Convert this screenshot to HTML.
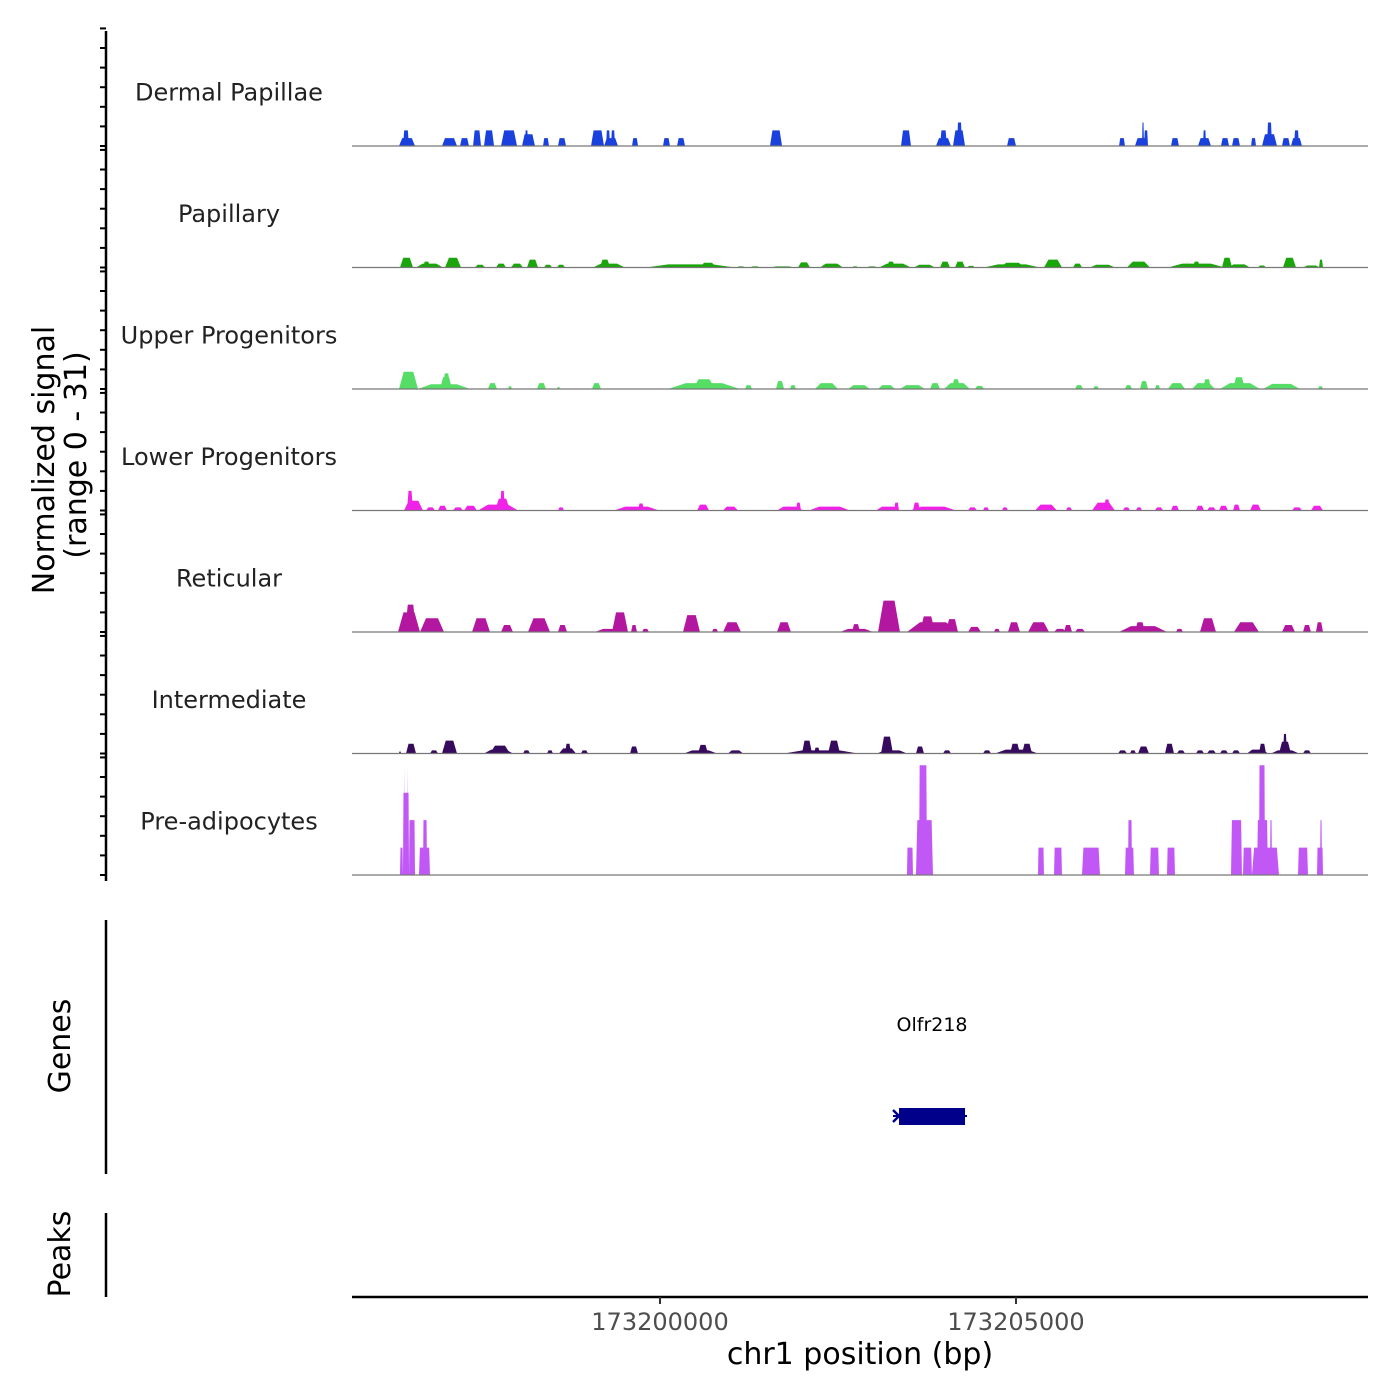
<!DOCTYPE html>
<html><head><meta charset="utf-8"><style>
html,body{margin:0;padding:0;background:#fff;}
svg{display:block;font-family:"DejaVu Sans","Liberation Sans",sans-serif;}
</style></head><body>
<svg id="chart" width="1400" height="1400" viewBox="0 0 1400 1400" xmlns="http://www.w3.org/2000/svg">
<rect width="1400" height="1400" fill="#fff"/>
<g id="tracks"></g>
<g id="yaxis"></g>
<text transform="translate(54,460) rotate(-90)" text-anchor="middle" font-size="30" fill="#000">Normalized signal</text>
<text transform="translate(86,455) rotate(-90)" text-anchor="middle" font-size="30" fill="#000">(range 0 - 31)</text>
<line x1="106" y1="920" x2="106" y2="1174" stroke="#000" stroke-width="2.5"/>
<text transform="translate(70,1046) rotate(-90)" text-anchor="middle" font-size="30" fill="#000">Genes</text>
<g id="genes"></g>
<line x1="106" y1="1213" x2="106" y2="1297" stroke="#000" stroke-width="2.5"/>
<text transform="translate(70,1254) rotate(-90)" text-anchor="middle" font-size="30" fill="#000">Peaks</text>
<g id="xaxis"></g>
<text x="860" y="1364" text-anchor="middle" font-size="30" fill="#000">chr1 position (bp)</text>
</svg>
<script>
// positions in kb past 173,195,000 ; peaks are [start, end, height]
const trackNames = ["Dermal Papillae","Papillary","Upper Progenitors","Lower Progenitors","Reticular","Intermediate","Pre-adipocytes"];
const trackColors = ["#1a40dd","#1aa50a","#55dd66","#f022e8","#b3179f","#360a5c","#c158f6"];
const xTickValues = [173200000, 173205000];
const xTickLabels = ["173200000","173205000"];
const yRangeMax = 31;
const geneName = "Olfr218";
const geneStart = 8.357, geneEnd = 9.284;

const dermalPapillae = [[1.334,1.559,2],[1.390,1.475,4],[1.938,2.149,2],[2.191,2.317,2],[2.374,2.486,4],[2.528,2.669,4],[2.767,2.992,4],[3.062,3.244,3],[3.104,3.146,4],[3.357,3.441,2],[3.567,3.680,2],[4.031,4.214,4],[4.214,4.410,2],[4.242,4.298,4],[4.312,4.368,4],[4.607,4.691,2],[5.042,5.140,2],[5.239,5.351,2],[6.545,6.714,4],[8.385,8.525,4],[8.876,9.087,2],[8.933,9.031,4],[9.115,9.284,4],[9.171,9.242,6],[9.874,10.000,2],[11.447,11.531,2],[11.671,11.854,2],[11.770,11.798,6],[11.798,11.854,4],[12.177,12.289,2],[12.556,12.739,2],[12.627,12.669,4],[12.879,12.992,2],[13.034,13.146,2],[13.301,13.371,2],[13.455,13.666,3],[13.525,13.596,6],[13.736,13.848,2],[13.862,14.017,2],[13.905,13.975,4]];
const papillary = [[1.348,1.531,2.5],[1.573,1.952,1],[1.671,1.770,1.5],[1.980,2.205,2.5],[2.402,2.542,0.7],[2.697,2.837,1],[2.907,3.076,1],[3.132,3.287,2],[3.371,3.483,0.7],[3.553,3.666,0.7],[4.059,4.508,1],[4.157,4.298,2],[4.803,6.053,0.8],[5.562,5.787,1.2],[6.081,6.194,0.3],[6.264,6.405,0.3],[6.545,6.896,0.3],[6.938,7.107,1.3],[7.247,7.570,1],[7.697,7.781,0.3],[7.907,8.048,0.3],[8.076,8.525,1],[8.188,8.300,1.5],[8.567,8.862,0.7],[8.933,9.073,1.5],[9.143,9.284,1.5],[9.312,9.424,0.4],[9.551,10.337,0.8],[9.775,10.126,1.2],[10.393,10.646,2],[10.801,10.927,1],[11.039,11.390,0.7],[11.559,11.882,1.5],[12.135,12.935,1],[12.486,12.584,1.5],[12.893,13.034,2.5],[12.978,13.287,0.8],[13.399,13.511,0.5],[13.750,13.933,2.5],[14.031,14.270,0.5],[14.256,14.312,2]];
const upperProgenitors = [[1.334,1.601,4.4],[1.601,2.331,1.2],[1.910,2.079,3],[1.952,2.051,4],[2.584,2.711,1.5],[2.865,2.921,0.7],[3.272,3.399,1.5],[3.553,3.596,0.5],[4.045,4.171,1.5],[5.112,6.124,1.5],[5.464,5.772,2.5],[6.194,6.292,1],[6.629,6.742,2],[6.826,6.910,1],[7.177,7.500,1.5],[7.640,7.949,1],[8.062,8.300,1],[8.371,8.722,1],[8.792,8.933,1.5],[8.989,9.354,1.5],[9.101,9.214,2.5],[9.424,9.551,0.8],[10.829,10.941,1],[11.082,11.166,0.7],[11.531,11.629,1],[11.742,11.854,2],[11.952,12.023,1],[12.135,12.374,1.5],[12.472,12.795,1.5],[12.627,12.739,2.5],[12.865,13.427,1.5],[13.048,13.216,3],[13.469,13.989,1.3],[14.242,14.312,0.7]];
const lowerProgenitors = [[1.405,1.671,2.5],[1.447,1.531,5],[1.713,1.840,0.8],[1.882,2.008,1.2],[2.093,2.233,0.8],[2.247,2.430,1.2],[2.444,3.006,1.5],[2.683,2.893,3],[2.753,2.823,5],[3.567,3.652,0.8],[4.354,4.986,1],[4.691,4.775,1.8],[5.520,5.688,1.5],[5.885,6.096,1],[6.643,7.008,1],[6.910,6.980,2],[7.093,7.669,1],[8.034,8.371,1],[8.287,8.357,2],[8.511,9.157,1],[8.553,8.652,2],[9.326,9.452,0.8],[9.537,9.621,0.8],[9.803,9.888,0.8],[10.267,10.576,1.5],[10.702,10.787,0.8],[11.067,11.390,2],[11.236,11.320,2.8],[11.503,11.601,0.8],[11.685,11.770,0.8],[11.952,12.065,0.8],[12.177,12.289,1.2],[12.528,12.641,1.2],[12.683,12.809,0.8],[12.851,12.978,1.2],[13.048,13.146,1.5],[13.287,13.441,1.5],[13.876,14.017,0.8],[14.143,14.312,1.2]];
const reticular = [[1.320,1.629,5],[1.419,1.573,7],[1.629,1.966,3.5],[2.360,2.612,3.5],[2.767,2.935,1.8],[3.146,3.455,3.5],[3.567,3.694,1.8],[4.087,4.551,0.8],[4.326,4.551,5],[4.593,4.677,1.8],[4.747,4.845,0.8],[5.323,5.562,4.3],[5.730,5.815,0.8],[5.885,6.138,2.5],[6.643,6.840,2.5],[7.528,7.992,0.8],[7.697,7.809,2],[8.062,8.371,8],[8.469,9.199,2.5],[8.652,8.862,4],[9.017,9.185,3.3],[9.326,9.508,1.3],[9.691,9.775,0.8],[9.888,10.056,2.5],[10.169,10.464,2.5],[10.534,10.702,0.8],[10.674,10.787,1.8],[10.829,10.969,0.8],[11.447,12.121,1.5],[11.671,11.812,2.5],[12.247,12.346,0.8],[12.584,12.809,3.5],[13.062,13.413,2.5],[13.736,13.919,1.8],[14.031,14.143,1.8],[14.213,14.312,2.5]];
const intermediate = [[1.334,1.362,0.5],[1.433,1.573,2.5],[1.770,1.882,0.8],[1.938,2.149,3.3],[2.528,2.935,1],[2.612,2.893,2],[3.076,3.174,0.8],[3.413,3.497,0.8],[3.581,3.820,1.3],[3.666,3.750,2.5],[3.890,3.989,0.8],[4.579,4.691,1.8],[5.337,5.801,0.8],[5.534,5.674,2.2],[5.955,6.166,0.8],[6.742,7.781,0.8],[6.994,7.135,3.3],[7.360,7.528,3.3],[7.163,7.247,1.5],[8.048,8.469,0.8],[8.104,8.272,4.3],[8.595,8.708,1.8],[8.975,9.087,0.8],[9.537,9.649,0.8],[9.705,10.309,1],[9.916,10.056,2.5],[10.084,10.225,2.5],[11.433,11.559,0.8],[11.601,11.685,0.8],[11.714,11.868,1.8],[12.093,12.219,2.5],[12.261,12.374,0.8],[12.528,12.641,0.8],[12.683,12.809,0.8],[12.865,12.978,0.8],[13.034,13.146,0.8],[13.244,13.539,1],[13.413,13.511,2.5],[13.581,13.975,0.8],[13.694,13.862,3],[13.750,13.806,5],[14.031,14.143,0.8]];
const preAdipocytes = [[1.348,1.390,7],[1.390,1.475,21],[1.405,1.419,28],[1.447,1.461,28],[1.475,1.559,14],[1.615,1.770,7],[1.671,1.728,14],[8.469,8.553,7],[8.595,8.834,14],[8.638,8.750,28],[10.309,10.393,7],[10.534,10.646,7],[10.927,11.180,7],[11.531,11.657,7],[11.573,11.629,14],[11.882,12.008,7],[12.121,12.233,7],[13.020,13.174,14],[13.188,13.314,7],[13.314,13.694,7],[13.385,13.539,14],[13.413,13.497,28],[13.567,13.596,14],[13.961,14.101,7],[14.228,14.312,7],[14.270,14.298,14]];

const trackData = [dermalPapillae, papillary, upperProgenitors, lowerProgenitors, reticular, intermediate, preAdipocytes];
const rampFrac = [0.2,0.25,0.25,0.25,0.25,0.25,0.08];

const NS = "http://www.w3.org/2000/svg";
const X0 = 352, X1 = 1368, KB0 = 0.674, KB1 = 14.944;
const xScale = kb => X0 + (kb - KB0) / (KB1 - KB0) * (X1 - X0);
const bpToKb = bp => (bp - 173195000) / 1000;
const PANEL_TOP = 24.5, PANEL_H = 121.5;
const yScale = (i, v) => PANEL_TOP + PANEL_H * (i + 1) - v / yRangeMax * PANEL_H;

const tracks = document.getElementById('tracks');
trackData.forEach((peaks, i) => {
  const g = document.createElementNS(NS, 'g');
  
  
  const lab = document.createElementNS(NS, 'text');
  
  
  lab.setAttribute('x', 229); lab.setAttribute('y', PANEL_TOP + PANEL_H * i + 76);
  lab.setAttribute('text-anchor', 'middle'); lab.setAttribute('font-size', '24'); lab.setAttribute('fill', '#222');
  lab.textContent = trackNames[i];
  g.appendChild(lab);
  const base = yScale(i, 0);
  peaks.forEach(p => {
    const s = xScale(p[0]), e = xScale(p[1]), top = yScale(i, p[2]);
    const r = Math.max(0.5, (e - s) * rampFrac[i]);
    const poly = document.createElementNS(NS, 'polygon');
    
    
    poly.setAttribute('points', `${s},${base} ${s + r},${top} ${e - r},${top} ${e},${base}`);
    poly.setAttribute('fill', trackColors[i]);
    g.appendChild(poly);
  });
  const bl = document.createElementNS(NS, 'line');
  
  
  bl.setAttribute('x1', X0); bl.setAttribute('x2', X1); bl.setAttribute('y1', base); bl.setAttribute('y2', base);
  bl.setAttribute('stroke', '#777'); bl.setAttribute('stroke-width', '1.2');
  g.appendChild(bl);
  tracks.appendChild(g);
});

const yaxis = document.getElementById('yaxis');
const yl = document.createElementNS(NS, 'line');


yl.setAttribute('x1', 106); yl.setAttribute('x2', 106); yl.setAttribute('y1', 31); yl.setAttribute('y2', 881);
yl.setAttribute('stroke', '#000'); yl.setAttribute('stroke-width', '2.5');
yaxis.appendChild(yl);
for (let i = 0; i < 7; i++) {
  for (let v = 0; v <= 30; v += 5) {
    const y = yScale(i, v);
    const t = document.createElementNS(NS, 'line');
    
    
    t.setAttribute('x1', 100); t.setAttribute('x2', 106); t.setAttribute('y1', y); t.setAttribute('y2', y);
    t.setAttribute('stroke', '#000'); t.setAttribute('stroke-width', '2');
    yaxis.appendChild(t);
  }
}

const genes = document.getElementById('genes');
const gs = xScale(geneStart), ge = xScale(geneEnd);
const gl = document.createElementNS(NS, 'text');


gl.setAttribute('x', (gs + ge) / 2); gl.setAttribute('y', 1031);
gl.setAttribute('text-anchor', 'middle'); gl.setAttribute('font-size', '19'); gl.setAttribute('fill', '#000');
gl.textContent = geneName;
genes.appendChild(gl);
const gline = document.createElementNS(NS, 'line');


gline.setAttribute('x1', gs - 6); gline.setAttribute('x2', ge + 2); gline.setAttribute('y1', 1116); gline.setAttribute('y2', 1116);
gline.setAttribute('stroke', '#00008b'); gline.setAttribute('stroke-width', '2');
genes.appendChild(gline);
const gb = document.createElementNS(NS, 'rect');


gb.setAttribute('x', gs); gb.setAttribute('y', 1108); gb.setAttribute('width', ge - gs); gb.setAttribute('height', 17);
gb.setAttribute('fill', '#00008b');
genes.appendChild(gb);
const chev = document.createElementNS(NS, 'polyline');


chev.setAttribute('points', `${gs - 6},1110 ${gs},1116 ${gs - 6},1122`);
chev.setAttribute('fill', 'none'); chev.setAttribute('stroke', '#00008b'); chev.setAttribute('stroke-width', '2.5');
genes.appendChild(chev);

const xaxis = document.getElementById('xaxis');
const xl = document.createElementNS(NS, 'line');


xl.setAttribute('x1', X0); xl.setAttribute('x2', X1); xl.setAttribute('y1', 1297); xl.setAttribute('y2', 1297);
xl.setAttribute('stroke', '#000'); xl.setAttribute('stroke-width', '2.5');
xaxis.appendChild(xl);
xTickValues.forEach((v, k) => {
  const x = xScale(bpToKb(v));
  const t = document.createElementNS(NS, 'line');
  
  
  t.setAttribute('x1', x); t.setAttribute('x2', x); t.setAttribute('y1', 1297); t.setAttribute('y2', 1304);
  t.setAttribute('stroke', '#333'); t.setAttribute('stroke-width', '2');
  xaxis.appendChild(t);
  const lb = document.createElementNS(NS, 'text');
  
  
  lb.setAttribute('x', x); lb.setAttribute('y', 1330);
  lb.setAttribute('text-anchor', 'middle'); lb.setAttribute('font-size', '24'); lb.setAttribute('fill', '#4d4d4d');
  lb.textContent = xTickLabels[k];
  xaxis.appendChild(lb);
});
</script>
</body></html>
